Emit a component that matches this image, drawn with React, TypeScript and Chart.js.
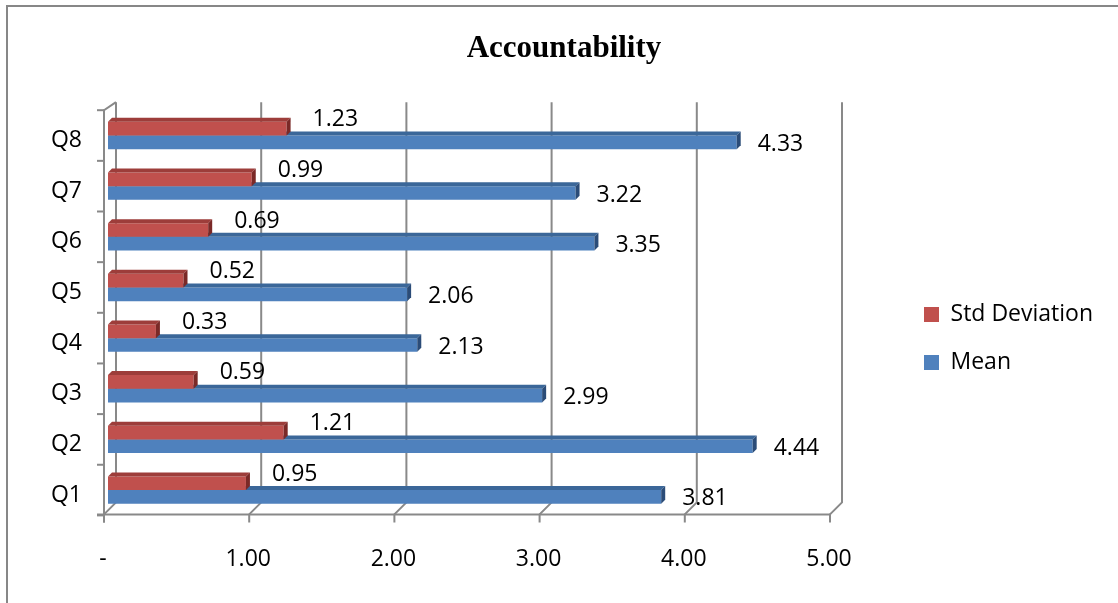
import React, { useEffect, useRef } from 'react';
import { Chart, registerables } from 'chart.js';

Chart.register(...registerables);

// ---- data ----
const titleText = 'Accountability';
const categories = ['Q8', 'Q7', 'Q6', 'Q5', 'Q4', 'Q3', 'Q2', 'Q1'];
const seriesNames = ['Std Deviation', 'Mean'];
const stdDeviation = [1.23, 0.99, 0.69, 0.52, 0.33, 0.59, 1.21, 0.95];
const meanValues = [4.33, 3.22, 3.35, 2.06, 2.13, 2.99, 4.44, 3.81];
const xTickValues = [0, 1, 2, 3, 4, 5];

// ---- styling ----
const FONT = '"Open Sans", sans-serif';
const TITLE_FONT = '"Liberation Serif", "Times New Roman", serif';
const FS = 23;
const colors = {
  red: { front: '#C0504D', top: '#9D3D3A', end: '#7A2927' },
  blue: { front: '#4F81BD', top: '#3B6799', end: '#2B4C78' },
};
const faceColors = [colors.red, colors.blue];
const GRID = '#898989';
const PAD_L = 25;
const PAD_R = 15;
const PLOT_LEFT = 108;
const PLOT_RIGHT = 834;

const threeD = {
  id: 'threeD',
  beforeDatasetsDraw(chart: any) {
    const { ctx, chartArea: ca, scales } = chart;
    const x = scales.x;
    const y = scales.y;
    const back = 8;
    const front = -4;
    const top = ca.top;
    const bottom = ca.bottom;
    ctx.save();
    ctx.strokeStyle = GRID;
    ctx.lineWidth = 2;
    xTickValues.forEach((v) => {
      const p = x.getPixelForValue(v);
      ctx.beginPath();
      ctx.moveTo(p + back, top - 8);
      ctx.lineTo(p + back, bottom - 13);
      ctx.lineTo(p + front, bottom - 1);
      ctx.lineTo(p + front, bottom + 7);
      ctx.stroke();
    });
    const p0 = x.getPixelForValue(xTickValues[0]);
    const pN = x.getPixelForValue(xTickValues[xTickValues.length - 1]);
    ctx.beginPath();
    ctx.moveTo(p0 + back, top - 8);
    ctx.lineTo(p0 + front, top);
    ctx.lineTo(p0 + front, bottom + 7);
    ctx.stroke();
    ctx.beginPath();
    ctx.moveTo(p0 + front - 7, bottom - 1);
    ctx.lineTo(pN + front, bottom - 1);
    ctx.stroke();
    const n = categories.length;
    const band = n > 1 ? Math.abs(y.getPixelForValue(1) - y.getPixelForValue(0)) : bottom - top;
    for (let i = 0; i <= n; i++) {
      const yy = i < n ? y.getPixelForValue(i) - band / 2 : y.getPixelForValue(n - 1) + band / 2;
      ctx.beginPath();
      ctx.moveTo(p0 + front - 7, yy);
      ctx.lineTo(p0 + front, yy);
      ctx.stroke();
    }
    ctx.restore();
  },
  afterDatasetDraw(chart: any, args: any) {
    const { ctx } = chart;
    const c = faceColors[args.index];
    const d = 4;
    ctx.save();
    args.meta.data.forEach((el: any) => {
      const { x, y, base, height } = el.getProps(['x', 'y', 'base', 'height'], true);
      const x0 = Math.min(x, base);
      const x1 = Math.max(x, base);
      const yTop = y - height / 2;
      const yBot = y + height / 2;
      ctx.fillStyle = c.top;
      ctx.beginPath();
      ctx.moveTo(x0, yTop);
      ctx.lineTo(x0 + d, yTop - d);
      ctx.lineTo(x1 + d, yTop - d);
      ctx.lineTo(x1, yTop);
      ctx.closePath();
      ctx.fill();
      ctx.fillStyle = c.end;
      ctx.beginPath();
      ctx.moveTo(x1, yTop);
      ctx.lineTo(x1 + d, yTop - d);
      ctx.lineTo(x1 + d, yBot - d);
      ctx.lineTo(x1, yBot);
      ctx.closePath();
      ctx.fill();
    });
    ctx.restore();
  },
  afterDraw(chart: any) {
    const { ctx } = chart;
    ctx.save();
    ctx.font = `${FS}px ${FONT}`;
    ctx.fillStyle = '#000';
    ctx.textAlign = 'left';
    ctx.textBaseline = 'middle';
    chart.data.datasets.forEach((ds: any, di: number) => {
      const meta = chart.getDatasetMeta(di);
      meta.data.forEach((el: any, i: number) => {
        const { x, y } = el.getProps(['x', 'y'], true);
        const v = ds.data[i];
        if (di === 0) ctx.fillText(v.toFixed(2), x + 26, y - 9);
        else ctx.fillText(v.toFixed(2), x + 21, y + 2);
      });
    });
    ctx.restore();
  },
};

export default function App() {
  const ref = useRef<HTMLCanvasElement>(null);
  useEffect(() => {
    if (!ref.current) return;
    Chart.defaults.font.family = FONT;
    Chart.defaults.font.size = FS;
    Chart.defaults.color = '#000';
    const chart = new Chart(ref.current, {
      type: 'bar',
      data: {
        labels: categories,
        datasets: [
          {
            label: seriesNames[0],
            data: stdDeviation,
            backgroundColor: colors.red.front,
            borderWidth: 0,
            categoryPercentage: 0.54,
            barPercentage: 1.0,
          },
          {
            label: seriesNames[1],
            data: meanValues,
            backgroundColor: colors.blue.front,
            borderWidth: 0,
            categoryPercentage: 0.54,
            barPercentage: 1.0,
          },
        ],
      },
      options: {
        indexAxis: 'y',
        responsive: false,
        animation: false,
        layout: { padding: { left: PAD_L, right: PAD_R, top: 0, bottom: 0 } },
        scales: {
          x: {
            min: 0,
            max: 5,
            afterBuildTicks: (s: any) => {
              s.ticks = xTickValues.map((v) => ({ value: v }));
            },
            grid: { display: false, drawTicks: false },
            border: { display: false },
            ticks: {
              padding: 30,
              labelOffset: -5,
              maxRotation: 0,
              autoSkip: false,
              callback: (v: any) => (Number(v) === 0 ? '-' : Number(v).toFixed(2)),
            },
          },
          y: {
            grid: { display: false, drawTicks: false },
            border: { display: false },
            ticks: { padding: 26, labelOffset: 5 },
            afterFit: (s: any) => {
              s.width = PLOT_LEFT - PAD_L;
            },
          },
          yR: {
            type: 'linear',
            axis: 'y',
            position: 'right',
            display: true,
            grid: { display: false, drawTicks: false },
            border: { display: false },
            ticks: { display: false },
            afterFit: (s: any) => {
              const lw = s.chart.legend ? s.chart.legend.width : 195;
              s.width = Math.max(0, s.chart.width - PAD_R - lw - PLOT_RIGHT);
            },
          },
        },
        plugins: {
          title: {
            display: true,
            text: titleText,
            color: '#000',
            font: { family: TITLE_FONT, size: 31, weight: 'bold' },
            padding: { top: 30, bottom: 43 },
          },
          legend: {
            position: 'right',
            maxWidth: 400,
            title: { display: true, text: '', font: { size: 10 }, padding: { top: 0, bottom: 62 } },
            labels: {
              boxWidth: 15,
              boxHeight: 15,
              padding: 25,
              color: '#000',
              font: { family: FONT, size: FS },
            },
          },
          tooltip: { enabled: false },
        },
      },
      plugins: [threeD],
    } as any);
    let alive = true;
    const fontsReady = (document as any).fonts
      ? Promise.all([
          (document as any).fonts.load(`${FS}px "Open Sans"`),
          (document as any).fonts.load(`bold 31px "Liberation Serif"`),
        ])
      : Promise.resolve();
    fontsReady.then(
      () => {
        if (alive) chart.update();
      },
      () => {}
    );
    return () => {
      alive = false;
      chart.destroy();
    };
  }, []);

  return (
    <div
      style={{
        position: 'fixed',
        left: 0,
        top: 0,
        width: 1118,
        height: 603,
        overflow: 'hidden',
        background: '#fff',
      }}
    >
      <div
        style={{
          position: 'absolute',
          left: 6,
          top: 5,
          width: 1300,
          height: 800,
          border: '2px solid #878787',
          boxSizing: 'border-box',
        }}
      />
      <canvas
        ref={ref}
        width={1118}
        height={603}
        style={{ position: 'absolute', left: 0, top: 0, width: 1118, height: 603 }}
      />
    </div>
  );
}
